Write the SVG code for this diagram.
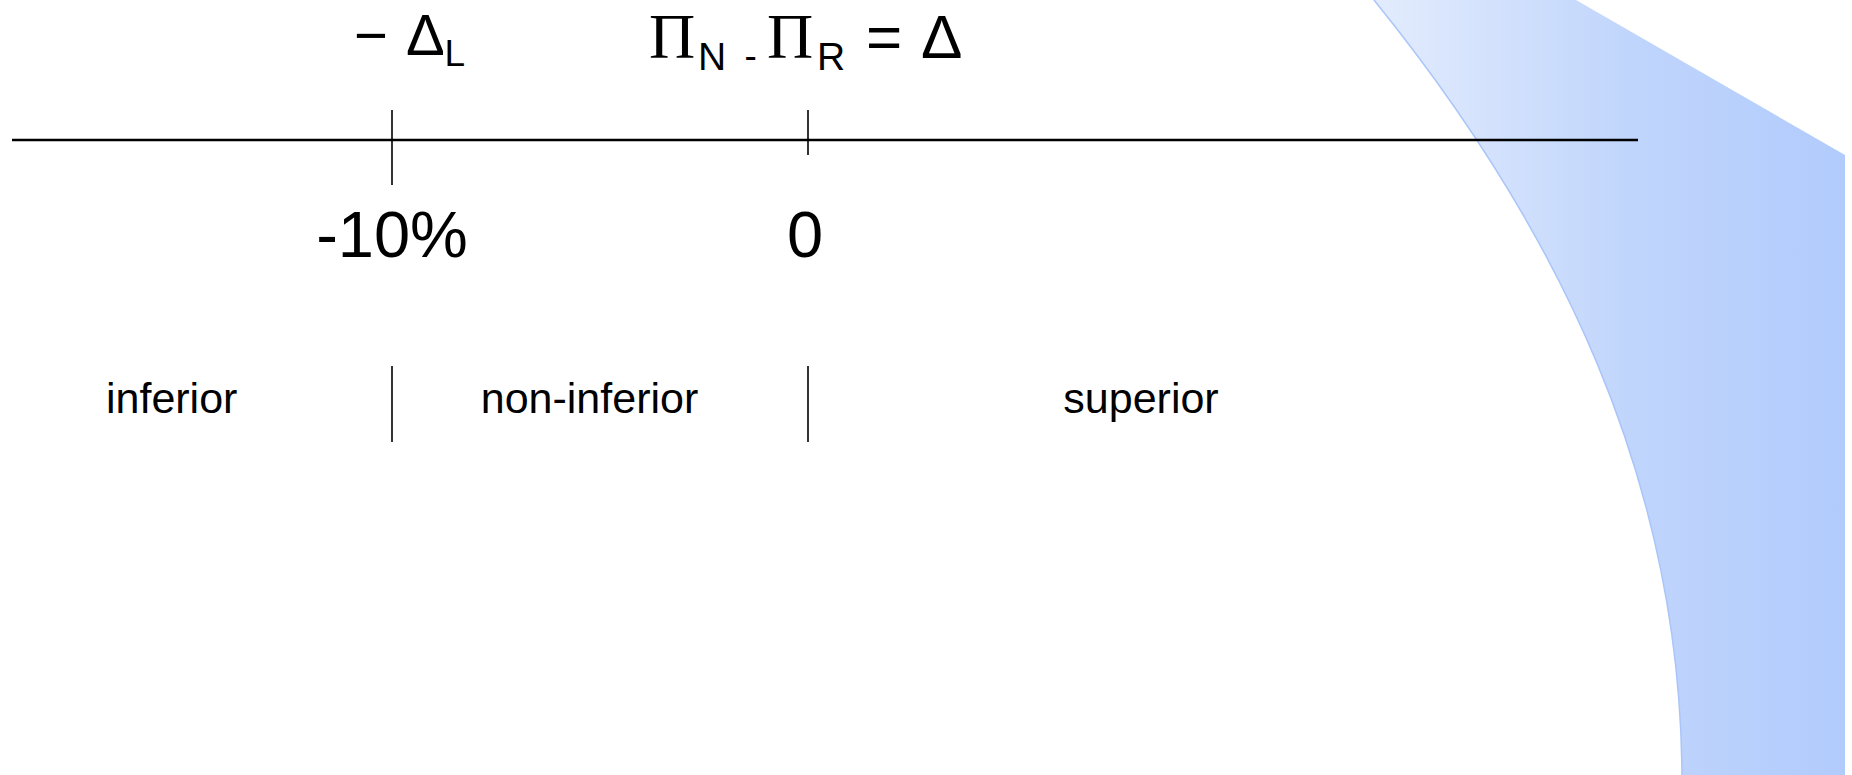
<svg xmlns="http://www.w3.org/2000/svg" width="1852" height="775" viewBox="0 0 1852 775">
  <defs>
    <linearGradient id="bandGrad" gradientUnits="userSpaceOnUse" x1="1374" y1="0" x2="1845" y2="0">
      <stop offset="0" stop-color="#e3ecfd"/>
      <stop offset="0.55" stop-color="#c0d5fc"/>
      <stop offset="1" stop-color="#b1cbfc"/>
    </linearGradient>
    <style>
      .sans { font-family: "Liberation Sans", Arial, sans-serif; fill: #000; }
      .serif { font-family: "Liberation Serif", "Times New Roman", serif; fill: #000; }
      .axis { stroke: #000; stroke-width: 2.5; fill: none; }
      .tick { stroke: #000; stroke-width: 1.6; fill: none; }
      .label { font-size: 43px; text-anchor: middle; }
      .value { font-size: 65px; text-anchor: middle; }
      .sub { font-size: 39px; }
    </style>
  </defs>
  <rect width="1852" height="775" fill="#ffffff"/>

  <g id="background-band">
    <path d="M1374,0 L1576,0 L1845,155 L1845,775 L1682,775 C1680,480 1560,230 1374,0 Z" fill="url(#bandGrad)"/>
    <path d="M1374,0 C1560,230 1680,480 1682,775" fill="none" stroke="#a9c5f9" stroke-width="1.5"/>
  </g>

  <g id="connectors">
    <line class="axis" x1="12" y1="140" x2="1638" y2="140"/>
    <line class="tick" x1="392" y1="110" x2="392" y2="185"/>
    <line class="tick" x1="808" y1="110" x2="808" y2="155"/>
    <line class="tick" x1="392" y1="366" x2="392" y2="442"/>
    <line class="tick" x1="808" y1="366" x2="808" y2="442"/>
  </g>

  <g id="label-margin">
    <text class="sans" x="354" y="54.5" font-size="58">−</text>
    <text class="sans" x="406" y="54.5" font-size="58">Δ</text>
    <text class="sans" x="444.5" y="66" font-size="37">L</text>
  </g>

  <g id="label-difference">
    <text class="serif" x="649" y="58.3" font-size="64">Π</text>
    <text class="sans sub" x="698" y="69.5">N</text>
    <text class="sans" x="744.5" y="68" font-size="37">-</text>
    <text class="serif" x="767" y="58.3" font-size="64">Π</text>
    <text class="sans sub" x="817" y="69.5">R</text>
    <text class="sans" x="866" y="58" font-size="62">=</text>
    <text class="sans" x="921" y="58" font-size="62">Δ</text>
  </g>

  <g id="value-minus10">
    <text class="sans value" x="392" y="257">-10%</text>
  </g>
  <g id="value-zero">
    <text class="sans value" x="805" y="257">0</text>
  </g>

  <g id="region-inferior">
    <text class="sans label" x="171.7" y="413">inferior</text>
  </g>
  <g id="region-non-inferior">
    <text class="sans label" x="589.5" y="413">non-inferior</text>
  </g>
  <g id="region-superior">
    <text class="sans label" x="1141" y="413">superior</text>
  </g>
</svg>
